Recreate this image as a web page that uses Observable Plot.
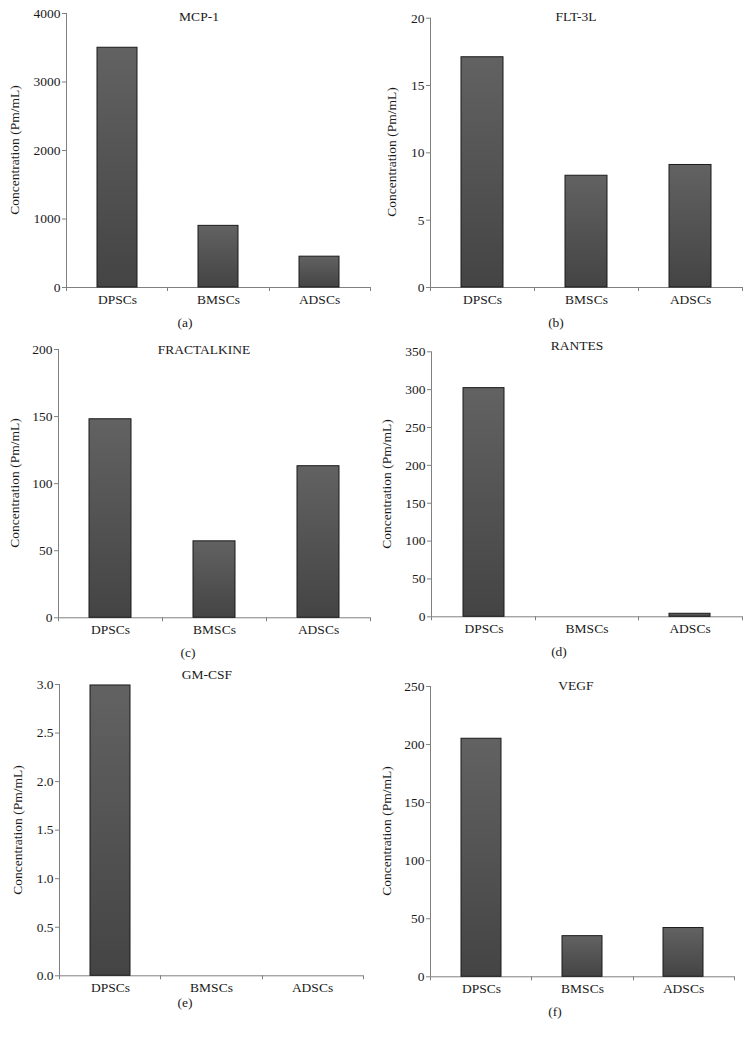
<!DOCTYPE html>
<html><head><meta charset="utf-8">
<script src="https://cdn.jsdelivr.net/npm/d3@7"></script>
<script src="https://cdn.jsdelivr.net/npm/@observablehq/plot@0.6"></script>
<style>
body{margin:0;background:#fff;}
#fig{position:relative;width:744px;height:1038px;font-family:"Liberation Serif","Times New Roman",serif;color:#1a1a1a;overflow:hidden;}
.panel{position:absolute;}
.t{position:absolute;font-size:13.5px;transform:translate(-50%,-50%);white-space:nowrap;}
.yl{position:absolute;font-size:13.5px;white-space:nowrap;transform:translate(-50%,-50%) rotate(-90deg);}
</style></head><body><div id="fig"></div>
<script>
// ---- data ----
const cellTypes = ["DPSCs", "BMSCs", "ADSCs"];
const mcp1 = [3500, 900, 450];
const flt3l = [17.1, 8.3, 9.1];
const fractalkine = [148, 57, 113];
const rantes = [302, 0, 4];
const gmcsf = [2.99, 0, 0];
const vegf = [205, 35, 42];
const panelTitles = ["MCP-1", "FLT-3L", "FRACTALKINE", "RANTES", "GM-CSF", "VEGF"];
const panelLetters = ["(a)", "(b)", "(c)", "(d)", "(e)", "(f)"];
const yLabel = "Concentration (Pm/mL)";
const yTicksMCP1 = [0, 1000, 2000, 3000, 4000];
const yTicksFLT3L = [0, 5, 10, 15, 20];
const yTicksFractalkine = [0, 50, 100, 150, 200];
const yTicksRantes = [0, 50, 100, 150, 200, 250, 300, 350];
const yTicksGMCSF = [0, 0.5, 1.0, 1.5, 2.0, 2.5, 3.0];
const yTicksVEGF = [0, 50, 100, 150, 200, 250];

const seriesList = [mcp1, flt3l, fractalkine, rantes, gmcsf, vegf];
const tickList = [yTicksMCP1, yTicksFLT3L, yTicksFractalkine, yTicksRantes, yTicksGMCSF, yTicksVEGF];
const formats = [d3.format("d"), d3.format("d"), d3.format("d"), d3.format("d"), d3.format(".1f"), d3.format("d")];

// ---- layout (page geometry) ----
const layout = [
  {left:0,   top:0,   axisX:66, right:370, yTop:13,   yBottom:287,   titleX:199, titleY:17, labelX:15, capX:185, capY:323},
  {left:372, top:0,   axisX:58, right:370, yTop:17.7, yBottom:287,   titleX:204, titleY:17, labelX:20, capX:184, capY:323},
  {left:0,   top:330, axisX:58, right:370, yTop:19,   yBottom:287.3, titleX:204, titleY:20, labelX:15, capX:188, capY:323},
  {left:372, top:330, axisX:59, right:370, yTop:21.3, yBottom:286.3, titleX:205, titleY:16, labelX:15, capX:187, capY:322},
  {left:0,   top:660, axisX:59, right:363, yTop:24,   yBottom:315.3, titleX:207, titleY:15, labelX:18, capX:185, capY:343},
  {left:372, top:660, axisX:58, right:362, yTop:26,   yBottom:316.3, titleX:204, titleY:26, labelX:15, capX:183, capY:352}
];

const fig = document.getElementById("fig");

function axisLines(n) {
  return function(...args) {
    const dims = args.find(a => a && a.marginLeft !== undefined && a.width !== undefined);
    const {width, height, marginLeft, marginRight, marginTop, marginBottom} = dims;
    const y0 = height - marginBottom;
    const g = d3.create("svg:g").attr("stroke", "#808080").attr("fill", "none").attr("stroke-width", 1);
    g.append("line").attr("x1", marginLeft + 0.5).attr("x2", marginLeft + 0.5).attr("y1", marginTop).attr("y2", y0);
    g.append("line").attr("x1", marginLeft).attr("x2", width - marginRight).attr("y1", y0 + 0.5).attr("y2", y0 + 0.5);
    const step = (width - marginLeft - marginRight) / n;
    d3.range(n + 1).forEach(i => {
      const x = Math.round(marginLeft + i * step) + 0.5;
      g.append("line").attr("x1", x).attr("x2", x).attr("y1", y0).attr("y2", y0 + 4);
    });
    return g.node();
  };
}

seriesList.forEach((values, i) => {
  const L = layout[i];
  const rows = cellTypes.map((c, j) => ({cell: c, value: values[j]}));
  const ticks = tickList[i];
  const height = Math.round(L.yBottom + 28);
  const svg = Plot.plot({
    width: 372,
    height,
    marginLeft: L.axisX,
    marginRight: 372 - L.right,
    marginTop: L.yTop,
    marginBottom: height - L.yBottom,
    style: {fontFamily: "'Liberation Serif', 'Times New Roman', serif", fontSize: "13.5px", color: "#1a1a1a", background: "transparent"},
    x: {domain: cellTypes, paddingInner: 0.6, paddingOuter: 0.3},
    y: {domain: [0, ticks[ticks.length - 1]]},
    marks: [
      axisLines(cellTypes.length),
      Plot.barY(rows.filter(d => d.value > 0), {x: "cell", y: "value", fill: `url(#barGrad${i})`, stroke: "#1a1a1a", strokeWidth: 1}),
      Plot.axisY({ticks, tickSize: 4, tickPadding: 2, stroke: "#808080", fill: "#1a1a1a", label: null, tickFormat: formats[i]}),
      Plot.axisX({tickSize: 0, tickPadding: 7, label: null, fill: "#1a1a1a"})
    ]
  });
  d3.select(svg).insert("defs", ":first-child").html(
    `<linearGradient id="barGrad${i}" x1="0" y1="0" x2="0" y2="1">
       <stop offset="0" stop-color="#626262"/><stop offset="1" stop-color="#444444"/>
     </linearGradient>`);
  const wrap = document.createElement("div");
  wrap.className = "panel";
  wrap.style.left = L.left + "px";
  wrap.style.top = L.top + "px";
  wrap.appendChild(svg);
  const title = document.createElement("div");
  title.className = "t";
  title.style.left = L.titleX + "px";
  title.style.top = L.titleY + "px";
  title.textContent = panelTitles[i];
  wrap.appendChild(title);
  const yl = document.createElement("div");
  yl.className = "yl";
  yl.style.left = L.labelX + "px";
  yl.style.top = ((L.yTop + L.yBottom) / 2) + "px";
  yl.textContent = yLabel;
  wrap.appendChild(yl);
  const cap = document.createElement("div");
  cap.className = "t";
  cap.style.left = L.capX + "px";
  cap.style.top = L.capY + "px";
  cap.textContent = panelLetters[i];
  wrap.appendChild(cap);
  fig.appendChild(wrap);
});
</script>
</body></html>
